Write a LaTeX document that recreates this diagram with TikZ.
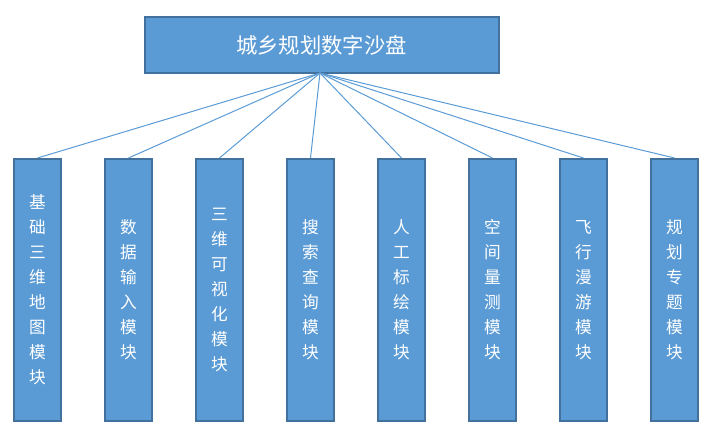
\documentclass[tikz,border=0pt]{standalone}
\usepackage{fontspec}
\setmainfont{Noto Sans CJK SC}
\definecolor{boxfill}{HTML}{5B9BD5}
\definecolor{boxline}{HTML}{41719C}
\begin{document}
\begin{tikzpicture}[x=0.75pt,y=-0.75pt,
  topbox/.style={draw=boxline,line width=1.5pt,fill=boxfill,text=white,
    minimum width=354*0.75pt,minimum height=56*0.75pt,inner sep=0pt,
    font=\fontsize{16}{20}\selectfont},
  modbox/.style={draw=boxline,line width=1.5pt,fill=boxfill,text=white,
    minimum width=47*0.75pt,minimum height=262*0.75pt,inner sep=0pt,
    align=center,font=\fontsize{12.5}{18.75}\selectfont},
  link/.style={draw=boxfill,line width=0.75pt}]
\useasboundingbox (0,0) rectangle (710,441);
\node[topbox] (top) at (321.5,45) {城乡规划数字沙盘};
\node[modbox] (m1) at (37.5,290) {基\\础\\三\\维\\地\\图\\模\\块};
\node[modbox] (m2) at (128.5,290) {数\\据\\输\\入\\模\\块};
\node[modbox] (m3) at (219.5,290) {三\\维\\可\\视\\化\\模\\块};
\node[modbox] (m4) at (310.5,290) {搜\\索\\查\\询\\模\\块};
\node[modbox] (m5) at (401.5,290) {人\\工\\标\\绘\\模\\块};
\node[modbox] (m6) at (492.5,290) {空\\间\\量\\测\\模\\块};
\node[modbox] (m7) at (583.5,290) {飞\\行\\漫\\游\\模\\块};
\node[modbox] (m8) at (674.5,290) {规\\划\\专\\题\\模\\块};
\coordinate (apex) at (320,73);
\foreach \m in {m1,m2,m3,m4,m5,m6,m7,m8}
  \draw[link] (apex) -- (\m.north);
\end{tikzpicture}
\end{document}
